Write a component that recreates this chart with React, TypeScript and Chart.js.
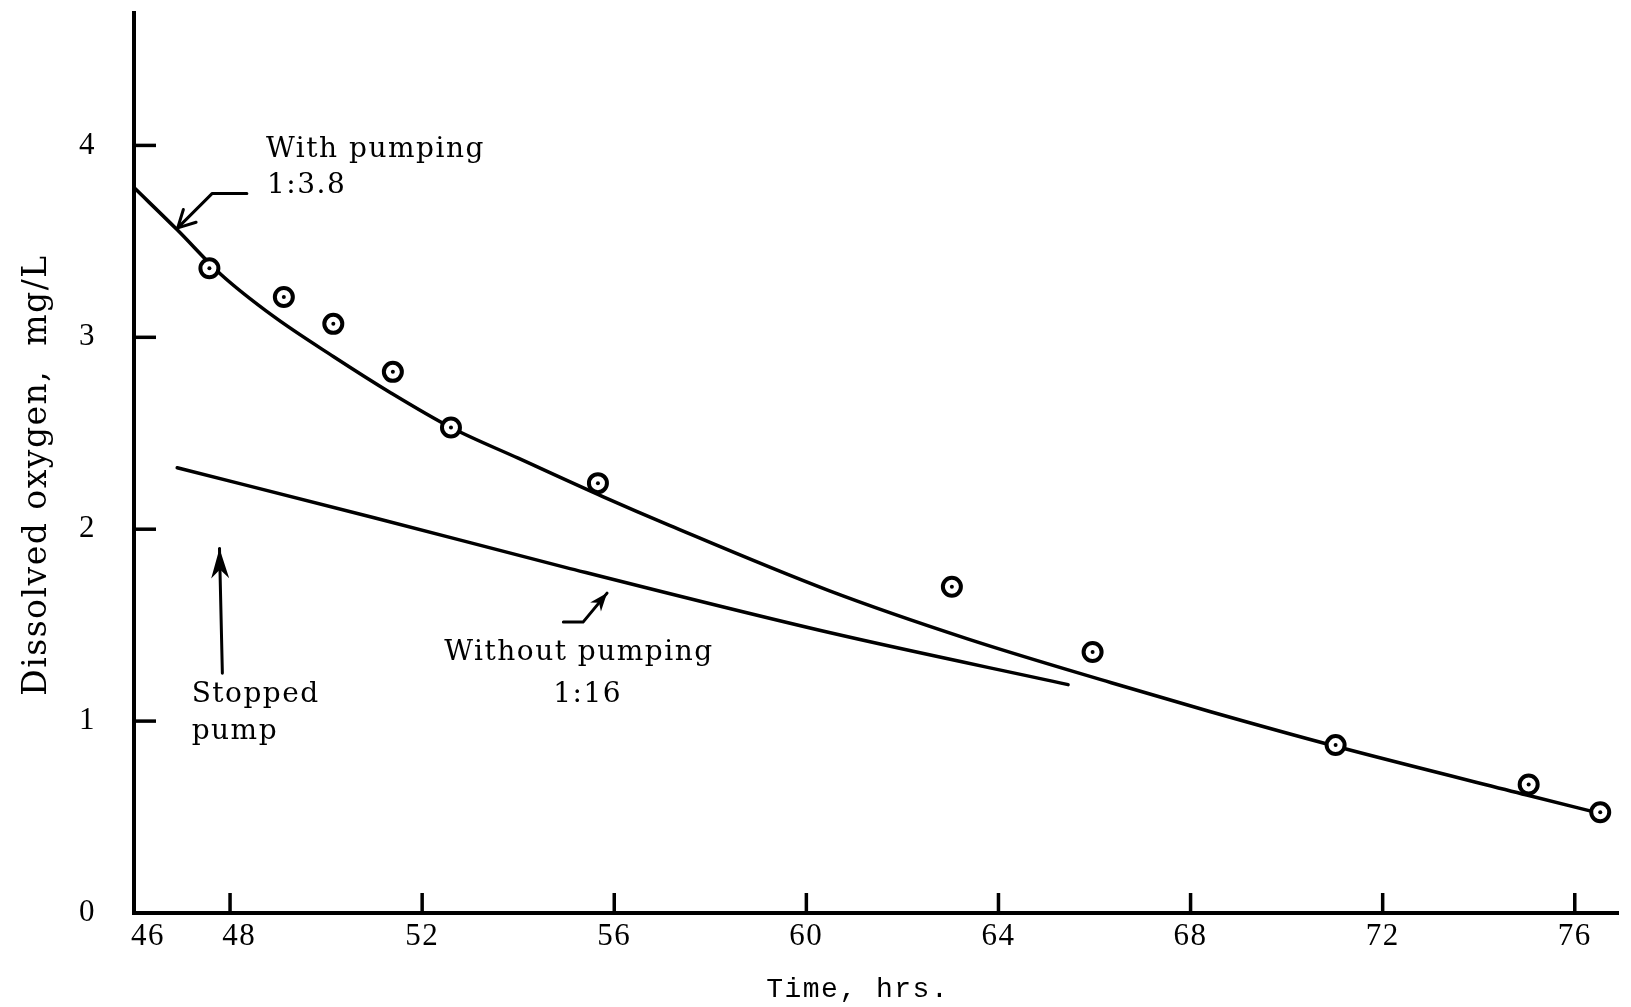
import React, { useEffect, useRef } from 'react';
import { Chart, registerables } from 'chart.js';

Chart.register(...registerables);

// ---- axis ticks ----
const xTicks = [46, 48, 52, 56, 60, 64, 68, 72, 76];
const yTicks = [0, 1, 2, 3, 4];
const xMin = 46;
const xMax = 76.9;
const yMin = 0;
const yMax = 4.69;

// ---- observed dissolved oxygen (circles) ----
const observedTime = [47.57, 49.12, 50.15, 51.39, 52.6, 55.66, 63.03, 65.96, 71.02, 75.04, 76.53];
const observedDO = [3.36, 3.21, 3.07, 2.82, 2.53, 2.24, 1.7, 1.36, 0.875, 0.67, 0.525];

// ---- fitted curve, with pumping 1:3.8 ----
const withPumpingTime = [46.0, 46.9, 47.8, 48.9, 50.15, 51.35, 52.6, 54.0, 55.76, 57.15, 60.47, 63.34, 66.35, 68.4, 71.0, 75.0, 76.67];
const withPumpingDO = [3.78, 3.56, 3.33, 3.11, 2.9, 2.71, 2.53, 2.37, 2.17, 2.02, 1.68, 1.43, 1.2, 1.05, 0.87, 0.615, 0.51];

// ---- line, without pumping 1:16 ----
const withoutPumpingTime = [46.9, 51.0, 55.0, 60.5, 65.45];
const withoutPumpingDO = [2.32, 2.06, 1.8, 1.46, 1.19];

// ---- annotations (data coordinates) ----
const noteTexts = ['With pumping', '1:3.8', 'Stopped', 'pump', 'Without pumping', '1:16'];
const noteX = [48.75, 48.77, 47.2, 47.2, 52.46, 54.73];
const noteY = [3.94, 3.75, 1.1, 0.905, 1.318, 1.1];

const arrowPaths: number[][][] = [
  [[48.35, 3.75], [47.63, 3.75], [46.91, 3.57]],
  [[47.84, 1.25], [47.78, 1.9]],
  [[54.94, 1.516], [55.35, 1.516], [55.85, 1.667]],
];
const arrowHeadKinds = ['open', 'filled', 'filled'];
const arrowHeadLens = [17, 30, 18];
const arrowHeadHalf = [9, 9, 7];

const toPts = (xs: number[], ys: number[]) => xs.map((x, i) => ({ x, y: ys[i] }));

const xLabel = (v: number) => (v === 46 ? '   46' : v === 48 ? '  48' : String(v));

const annotPlugin = {
  id: 'annot',
  beforeDraw(chart: any) {
    chart.ctx.letterSpacing = '1.5px';
  },
  afterDraw(chart: any) {
    const { ctx, chartArea } = chart;
    const xs = chart.scales.x;
    const ys = chart.scales.y;
    ctx.save();
    ctx.letterSpacing = '1.5px';
    ctx.strokeStyle = '#000';
    ctx.fillStyle = '#000';
    ctx.lineCap = 'butt';
    // inner tick marks
    ctx.lineWidth = 3.5;
    yTicks.filter((v) => v > yMin).forEach((v) => {
      const py = ys.getPixelForValue(v);
      ctx.beginPath();
      ctx.moveTo(chartArea.left, py);
      ctx.lineTo(chartArea.left + 22, py);
      ctx.stroke();
    });
    xTicks.filter((v) => v > xMin).forEach((v) => {
      const px = xs.getPixelForValue(v);
      ctx.beginPath();
      ctx.moveTo(px, chartArea.bottom);
      ctx.lineTo(px, chartArea.bottom - 20);
      ctx.stroke();
    });
    // notes
    ctx.font = '28px "DejaVu Serif"';
    ctx.textAlign = 'left';
    ctx.textBaseline = 'alphabetic';
    noteTexts.forEach((t, i) => {
      ctx.fillText(t, xs.getPixelForValue(noteX[i]), ys.getPixelForValue(noteY[i]));
    });
    // arrows
    ctx.lineWidth = 3;
    ctx.lineCap = 'round';
    ctx.lineJoin = 'round';
    arrowPaths.forEach((path, k) => {
      const pts = path.map(([a, b]) => [xs.getPixelForValue(a), ys.getPixelForValue(b)]);
      ctx.beginPath();
      pts.forEach(([px, py], i) => (i === 0 ? ctx.moveTo(px, py) : ctx.lineTo(px, py)));
      ctx.stroke();
      const [tx, ty] = pts[pts.length - 1];
      const [sx, sy] = pts[pts.length - 2];
      const len = Math.hypot(tx - sx, ty - sy);
      const ux = (tx - sx) / len;
      const uy = (ty - sy) / len;
      const nx = -uy;
      const ny = ux;
      const hl = arrowHeadLens[k];
      const hw = arrowHeadHalf[k];
      const bx = tx - ux * hl;
      const by = ty - uy * hl;
      if (arrowHeadKinds[k] === 'open') {
        ctx.beginPath();
        ctx.moveTo(bx + nx * hw, by + ny * hw);
        ctx.lineTo(tx, ty);
        ctx.lineTo(bx - nx * hw, by - ny * hw);
        ctx.stroke();
      } else {
        const mx = tx - ux * hl * 0.7;
        const my = ty - uy * hl * 0.7;
        ctx.beginPath();
        ctx.moveTo(tx, ty);
        ctx.lineTo(bx + nx * hw, by + ny * hw);
        ctx.lineTo(mx, my);
        ctx.lineTo(bx - nx * hw, by - ny * hw);
        ctx.closePath();
        ctx.fill();
      }
    });
    ctx.restore();
  },
};

export default function App() {
  const ref = useRef<HTMLCanvasElement | null>(null);

  useEffect(() => {
    if (!ref.current) return;
    const chart = new Chart(ref.current, {
      type: 'scatter',
      data: {
        datasets: [
          {
            label: 'Observed (centre)',
            data: toPts(observedTime, observedDO),
            pointRadius: 2,
            pointBackgroundColor: '#000',
            pointBorderWidth: 0,
            showLine: false,
            order: 0,
          },
          {
            label: 'Observed',
            data: toPts(observedTime, observedDO),
            pointRadius: 9,
            pointBackgroundColor: '#fff',
            pointBorderColor: '#000',
            pointBorderWidth: 4,
            showLine: false,
            order: 1,
          },
          {
            label: 'With pumping 1:3.8',
            data: toPts(withPumpingTime, withPumpingDO),
            showLine: true,
            borderColor: '#000',
            borderWidth: 3.5,
            pointRadius: 0,
            cubicInterpolationMode: 'monotone',
            borderCapStyle: 'round',
            order: 2,
          },
          {
            label: 'Without pumping 1:16',
            data: toPts(withoutPumpingTime, withoutPumpingDO),
            showLine: true,
            borderColor: '#000',
            borderWidth: 3.5,
            pointRadius: 0,
            cubicInterpolationMode: 'monotone',
            borderCapStyle: 'round',
            order: 2,
          },
        ],
      },
      options: {
        responsive: false,
        animation: false,
        devicePixelRatio: 1,
        layout: { padding: { top: 12, right: 0, bottom: 0, left: 0 } },
        plugins: {
          legend: { display: false },
          tooltip: { enabled: false },
        },
        scales: {
          x: {
            type: 'linear',
            min: xMin,
            max: xMax,
            grid: { display: false, drawTicks: false },
            border: { display: true, color: '#000', width: 4 },
            afterBuildTicks: (scale: any) => {
              scale.ticks = xTicks.map((v) => ({ value: v }));
            },
            afterFit: (scale: any) => {
              scale.height = 94;
              scale.paddingLeft = 0;
              scale.paddingRight = 0;
            },
            ticks: {
              padding: 5,
              maxRotation: 0,
              autoSkip: false,
              color: '#000',
              font: { family: '"Liberation Serif"', size: 31 },
              callback: (v: any) => xLabel(Number(v)),
            },
            title: {
              display: true,
              text: 'Time, hrs.  ',
              color: '#000',
              font: { family: '"Liberation Mono"', size: 28 },
              padding: { top: 0, bottom: 1 },
            },
          },
          y: {
            type: 'linear',
            min: yMin,
            max: yMax,
            grid: { display: false, drawTicks: false },
            border: { display: true, color: '#000', width: 4 },
            afterBuildTicks: (scale: any) => {
              scale.ticks = yTicks.map((v) => ({ value: v }));
            },
            afterFit: (scale: any) => {
              scale.width = 134;
              scale.paddingTop = 0;
              scale.paddingBottom = 0;
            },
            ticks: {
              padding: 38,
              color: '#000',
              font: { family: '"Liberation Serif"', size: 31 },
              callback: (v: any) => String(v),
            },
            title: {
              display: true,
              text: 'Dissolved oxygen,  mg/L  ',
              color: '#000',
              font: { family: '"DejaVu Serif"', size: 33 },
              padding: { top: 18, bottom: 0 },
            },
          },
        },
      },
      plugins: [annotPlugin],
    } as any);
    return () => chart.destroy();
  }, []);

  return (
    <div style={{ position: 'fixed', left: 0, top: 0, width: 1631, height: 1007, background: '#fff' }}>
      <canvas ref={ref} width={1631} height={1007} style={{ display: 'block' }} />
    </div>
  );
}
